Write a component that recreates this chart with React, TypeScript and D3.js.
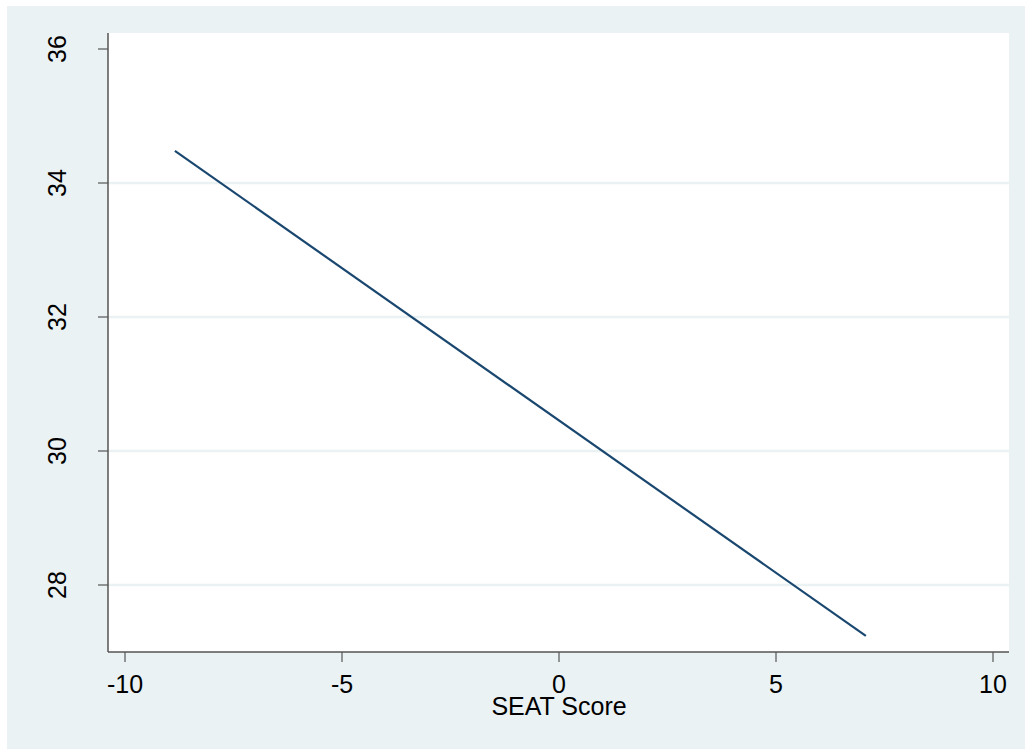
import React, { useEffect, useRef } from 'react';
import * as d3 from 'd3';

// fitted line: SEAT score vs outcome
const lineX = [-8.85, 7.07];
const lineY = [34.48, 27.24];
const xTicks = [-10, -5, 0, 5, 10];
const yTicks = [28, 30, 32, 34, 36];
const gridTicks = [28, 30, 32, 34];
const xTitle = 'SEAT Score';

const W = 1025;
const H = 749;

const App = () => {
  const ref = useRef<SVGSVGElement>(null);

  useEffect(() => {
    const svg = d3.select(ref.current);
    svg.selectAll('*').remove();

    const left = 108, right = 1009, top = 33, bottom = 652;
    const x = d3.scaleLinear().domain([-10, 10]).range([125, 993]);
    const y = d3.scaleLinear().domain([28, 36]).range([585, 49]);
    const font = '"Liberation Sans", Arial, sans-serif';

    // outer background
    svg.append('rect')
      .attr('x', 7).attr('y', 6)
      .attr('width', W - 7).attr('height', H - 6)
      .attr('fill', '#eaf2f3');

    // plot region
    svg.append('rect')
      .attr('x', left).attr('y', top)
      .attr('width', right - left).attr('height', bottom - top)
      .attr('fill', '#ffffff');

    svg.append('g')
      .selectAll('line')
      .data(gridTicks)
      .join('line')
      .attr('x1', left).attr('x2', right)
      .attr('y1', d => y(d)).attr('y2', d => y(d))
      .attr('stroke', '#eaf2f3')
      .attr('stroke-width', 2.5);

    // the line
    const pts = lineX.map((v, i) => [v, lineY[i]] as [number, number]);
    svg.append('path')
      .datum(pts)
      .attr('d', d3.line<[number, number]>().x(d => x(d[0])).y(d => y(d[1])))
      .attr('fill', 'none')
      .attr('stroke', '#1a476f')
      .attr('stroke-width', 2.2);

    // axes
    const axisColor = '#555555';
    svg.append('line')
      .attr('x1', left).attr('x2', left).attr('y1', top).attr('y2', bottom)
      .attr('stroke', axisColor).attr('stroke-width', 1.5);
    svg.append('line')
      .attr('x1', left).attr('x2', right).attr('y1', bottom).attr('y2', bottom)
      .attr('stroke', axisColor).attr('stroke-width', 1.5);

    const xg = svg.append('g');
    xg.selectAll('line')
      .data(xTicks)
      .join('line')
      .attr('x1', d => x(d)).attr('x2', d => x(d))
      .attr('y1', bottom).attr('y2', bottom + 10)
      .attr('stroke', axisColor).attr('stroke-width', 1.2);
    xg.selectAll('text')
      .data(xTicks)
      .join('text')
      .attr('x', d => x(d)).attr('y', 693)
      .attr('text-anchor', 'middle')
      .style('font-family', font).style('font-size', '25px')
      .attr('fill', '#000')
      .text(d => d3.format('d')(d).replace('−', '-'));

    const yg = svg.append('g');
    yg.selectAll('line')
      .data(yTicks)
      .join('line')
      .attr('x1', left - 10).attr('x2', left)
      .attr('y1', d => y(d)).attr('y2', d => y(d))
      .attr('stroke', axisColor).attr('stroke-width', 1.2);
    yg.selectAll('text')
      .data(yTicks)
      .join('text')
      .attr('transform', d => `translate(66,${y(d)}) rotate(-90)`)
      .attr('text-anchor', 'middle')
      .style('font-family', font).style('font-size', '25px')
      .attr('fill', '#000')
      .text(d => String(d));

    svg.append('text')
      .attr('x', x(0)).attr('y', 715)
      .attr('text-anchor', 'middle')
      .style('font-family', font).style('font-size', '25px')
      .attr('fill', '#000')
      .text(xTitle);
  }, []);

  return (
    <svg
      ref={ref}
      width={W}
      height={H}
      style={{ position: 'absolute', left: 0, top: 0, background: '#ffffff' }}
    />
  );
};

export default App;
